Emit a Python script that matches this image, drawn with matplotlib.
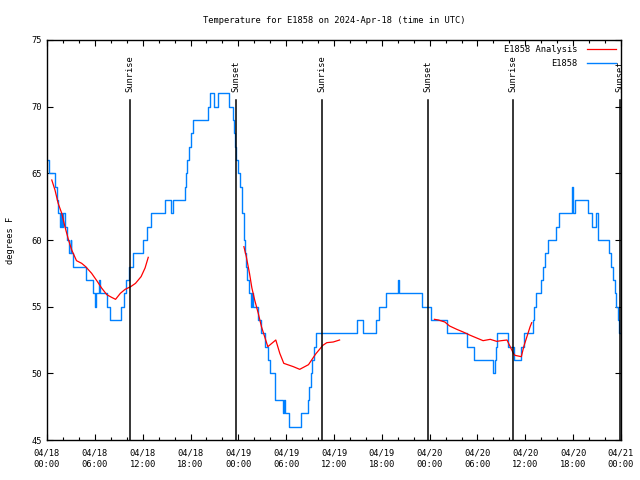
import matplotlib
matplotlib.use("Agg")
import matplotlib.pyplot as plt
from matplotlib.ticker import MultipleLocator
import numpy as np

# hours since 2024-04-18 00:00 UTC
obs_hours = [0.0, 0.3, 0.95, 1.2, 1.4, 1.6, 1.75, 1.9, 2.05, 2.2, 2.5, 2.75, 2.95, 3.05, 3.2,
             4.95, 5.75, 6.05, 6.2, 6.55, 6.7, 7.5, 7.9, 9.3, 9.6, 9.9, 10.3, 10.8, 12.1, 12.5,
             13.0, 14.8, 15.5, 15.8, 17.3, 17.45, 17.6, 17.8, 18.0, 18.3, 20.2, 20.4, 20.9, 21.4,
             22.8, 23.35, 23.5, 23.6, 23.75, 24.0, 24.2, 24.4, 24.5, 24.65, 24.75, 24.85, 25.0,
             25.1, 25.3, 25.6, 25.75, 25.9, 26.5, 26.8, 27.3, 27.7, 28.0, 28.65, 29.6, 29.75,
             29.9, 30.4, 31.8, 32.7, 32.9, 33.1, 33.3, 33.5, 33.8, 38.9, 39.6, 41.3, 41.7, 42.5,
             44.0, 44.2, 47.0, 48.2, 50.2, 52.7, 53.6, 56.0, 56.2, 56.3, 56.4, 57.8, 58.6, 59.5,
             59.8, 60.9, 61.1, 61.3, 62.0, 62.2, 62.5, 62.9, 63.8, 64.2, 65.85, 66.0, 66.2, 67.8,
             68.4, 68.9, 69.1, 70.5, 70.8, 71.0, 71.2, 71.4, 71.6, 71.8, 72.0]
obs_temps = [66, 65, 64, 63, 62, 61, 62, 61, 62, 61, 60, 59, 60, 59, 58,
             57, 56, 55, 56, 57, 56, 55, 54, 55, 56, 57, 58, 59, 60, 61,
             62, 63, 62, 63, 64, 65, 66, 67, 68, 69, 70, 71, 70, 71,
             70, 69, 68, 67, 66, 65, 64, 63, 62, 61, 60, 59, 58,
             57, 56, 55, 56, 55, 54, 53, 52, 51, 50, 48, 47, 48,
             47, 46, 47, 48, 49, 50, 51, 52, 53, 54, 53, 54, 55, 56,
             57, 56, 55, 54, 53, 52, 51, 50, 51, 52, 53, 52, 51, 52,
             53, 54, 55, 56, 57, 58, 59, 60, 61, 62, 64, 62, 63, 62,
             61, 62, 60, 59, 58, 57, 56, 55, 54, 53, 53]

ana_hours = [
    [0.6, 1.0, 1.4, 1.85, 2.25, 2.7, 3.1, 3.7, 4.35, 4.85, 5.6, 6.3, 6.85, 7.5, 8.1, 8.6,
     9.2, 9.8, 10.5, 11.1, 11.8, 12.3, 12.7],
    [24.7, 25.0, 25.4, 25.7, 26.05, 26.5, 26.9, 27.3, 27.7, 28.7, 29.2, 29.7, 30.9, 31.7,
     32.8, 33.7, 34.6, 35.1, 35.9, 36.7],
    [48.6, 49.1, 49.9, 50.5, 51.4, 52.2, 53.1, 53.9, 54.7, 55.6, 56.4, 57.0, 57.7, 58.1,
     58.5, 58.7, 59.5, 59.8, 60.2, 60.6, 60.8],
]
ana_temps = [
    [64.5, 63.75, 62.75, 62.0, 61.0, 60.0, 59.25, 58.45, 58.25, 58.0, 57.5, 56.9, 56.4, 55.9,
     55.7, 55.55, 56.0, 56.3, 56.5, 56.75, 57.25, 57.9, 58.7],
    [59.5, 58.75, 57.5, 56.4, 55.5, 54.5, 53.5, 52.75, 52.0, 52.5, 51.5, 50.75, 50.5, 50.3,
     50.65, 51.45, 52.1, 52.3, 52.35, 52.5],
    [54.05, 54.0, 53.85, 53.55, 53.3, 53.1, 52.85, 52.65, 52.45, 52.55, 52.4, 52.45, 52.5,
     52.0, 51.5, 51.35, 51.25, 52.0, 52.75, 53.5, 53.8],
]

sun_hours = [10.41, 23.71, 34.5, 47.8, 58.45, 71.87]
sun_labels = ["Sunrise", "Sunset", "Sunrise", "Sunset", "Sunrise", "Sunset"]

tick_hours = list(range(0, 73, 6))
tick_labels = ["04/18\n00:00", "04/18\n06:00", "04/18\n12:00", "04/18\n18:00",
               "04/19\n00:00", "04/19\n06:00", "04/19\n12:00", "04/19\n18:00",
               "04/20\n00:00", "04/20\n06:00", "04/20\n12:00", "04/20\n18:00",
               "04/21\n00:00"]

plt.rcParams['font.family'] = ['DejaVu Sans Mono']
fs = 6.3

fig = plt.figure(figsize=(6.4, 4.8), dpi=100)
ax = fig.add_axes([47/640, 40/480, 574/640, 400/480])

for i, (hs, ts) in enumerate(zip(ana_hours, ana_temps)):
    ax.plot(hs, ts, color="#ff0000", lw=0.9, label="E1858 Analysis" if i == 0 else None, zorder=3)
ax.plot(obs_hours, obs_temps, color="#0080ff", lw=1.0, drawstyle="steps-post", label="E1858", zorder=2)

for h, lab in zip(sun_hours, sun_labels):
    ax.plot([h, h], [45, 70.5], color="black", lw=1.1, zorder=4)
    ax.text(h, 71.1, lab, rotation=90, ha="center", va="bottom", fontsize=fs)

ax.set_xlim(0, 72)
ax.set_ylim(45, 75)
ax.set_xticks(tick_hours)
ax.set_xticklabels(tick_labels, linespacing=1.45)
ax.xaxis.set_minor_locator(MultipleLocator(2))
ax.yaxis.set_major_locator(MultipleLocator(5))
ax.tick_params(which="both", direction="in", top=True, right=True, labelsize=fs, width=0.8)
ax.tick_params(which="major", length=4.5)
ax.tick_params(which="minor", length=2.5)
ax.tick_params(axis="x", pad=6)
for s in ax.spines.values():
    s.set_linewidth(1.0)

ax.set_ylabel("degrees F", fontsize=fs, labelpad=12)
ax.set_title("Temperature for E1858 on 2024-Apr-18 (time in UTC)", fontsize=fs, pad=12)

leg = ax.legend(loc="upper right", frameon=False, fontsize=fs, markerfirst=False,
                handlelength=3.3, borderaxespad=0.25, borderpad=0.3, labelspacing=0.55,
                handletextpad=1.1)
for t in leg.get_texts():
    t.set_ha("right")

fig.savefig("out.png", dpi=100)
